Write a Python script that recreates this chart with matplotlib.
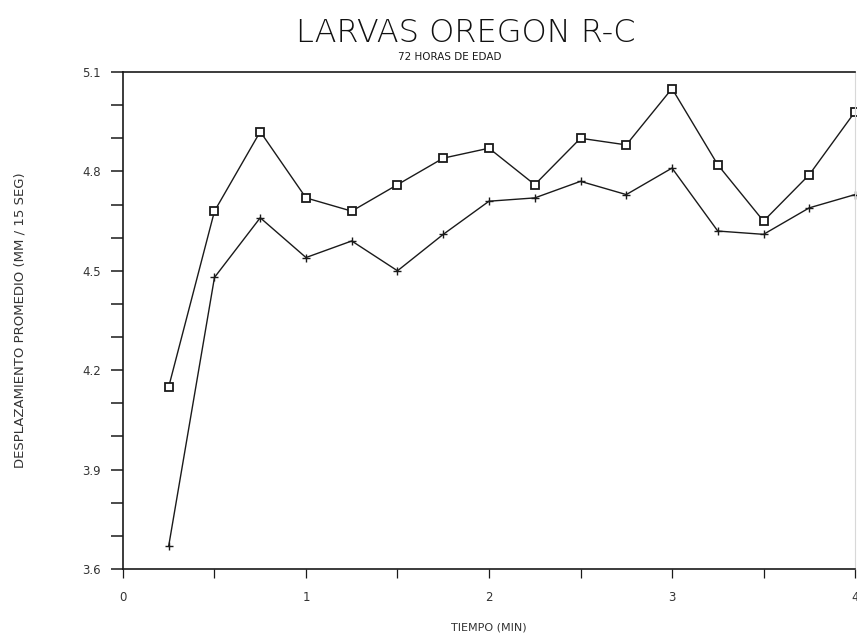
import matplotlib
matplotlib.use("Agg")
import matplotlib.pyplot as plt
from matplotlib.ticker import MultipleLocator, FixedLocator, FixedFormatter

# Tiempo (min) and mean displacement for the two series
tiempo = [0.25, 0.5, 0.75, 1.0, 1.25, 1.5, 1.75, 2.0, 2.25, 2.5, 2.75, 3.0, 3.25, 3.5, 3.75, 4.0]
serie_cuadros = [4.15, 4.68, 4.92, 4.72, 4.68, 4.76, 4.84, 4.87, 4.76, 4.90, 4.88, 5.05, 4.82, 4.65, 4.79, 4.98]
serie_cruces = [3.67, 4.48, 4.66, 4.54, 4.59, 4.50, 4.61, 4.71, 4.72, 4.77, 4.73, 4.81, 4.62, 4.61, 4.69, 4.73]

y_ticks = [3.6, 3.9, 4.2, 4.5, 4.8, 5.1]
y_labels = ["3.6", "3.9", "4.2", "4.5", "4.8", "5.1"]
x_ticks = [0, 1, 2, 3, 4]
x_labels = ["0", "1", "2", "3", "4"]

plt.rcParams["font.family"] = ["DejaVu Sans"]
ink = "#1a1a1a"

fig = plt.figure(figsize=(8.57, 6.44), dpi=100)
ax = fig.add_axes([0.1435, 0.1165, 0.8542, 0.7717])

ax.plot(tiempo, serie_cuadros, color=ink, lw=1.0, marker="s", markersize=6,
        markerfacecolor="white", markeredgecolor=ink, markeredgewidth=1.3,
        clip_on=False)
ax.plot(tiempo, serie_cruces, color=ink, lw=1.0, marker="+", markersize=6,
        markeredgewidth=1.0, clip_on=False)

ax.set_xlim(0, 4)
ax.set_ylim(3.6, 5.1)

ax.yaxis.set_major_locator(FixedLocator(y_ticks))
ax.yaxis.set_major_formatter(FixedFormatter(y_labels))
ax.yaxis.set_minor_locator(MultipleLocator(0.1))
ax.xaxis.set_major_locator(FixedLocator(x_ticks))
ax.xaxis.set_major_formatter(FixedFormatter(x_labels))
ax.xaxis.set_minor_locator(MultipleLocator(0.5))

ax.tick_params(axis="y", which="both", direction="out", length=9, width=1.1,
               color=ink, labelsize=8.5, labelcolor="#333333", pad=7)
ax.tick_params(axis="x", which="both", direction="out", length=6.5, width=0.9,
               color=ink, labelsize=8.5, labelcolor="#333333", pad=9)

for side in ["left", "bottom", "top"]:
    ax.spines[side].set_color(ink)
    ax.spines[side].set_linewidth(1.2)
ax.spines["right"].set_color("#d8d8d8")
ax.spines["right"].set_linewidth(0.8)

ax.set_xlabel("TIEMPO (MIN)", fontsize=8, color="#333333", labelpad=14)
ax.set_ylabel("DESPLAZAMIENTO PROMEDIO (MM / 15 SEG)", fontsize=9.5,
              color="#333333", labelpad=40)

fig.text(0.543, 0.948, "LARVAS OREGON R-C", ha="center", va="center",
         fontsize=23, fontweight="light", color="#111111")
fig.text(0.525, 0.911, "72 HORAS DE EDAD", ha="center", va="center",
         fontsize=7.5, color=ink)

fig.savefig("out.png", dpi=100)
